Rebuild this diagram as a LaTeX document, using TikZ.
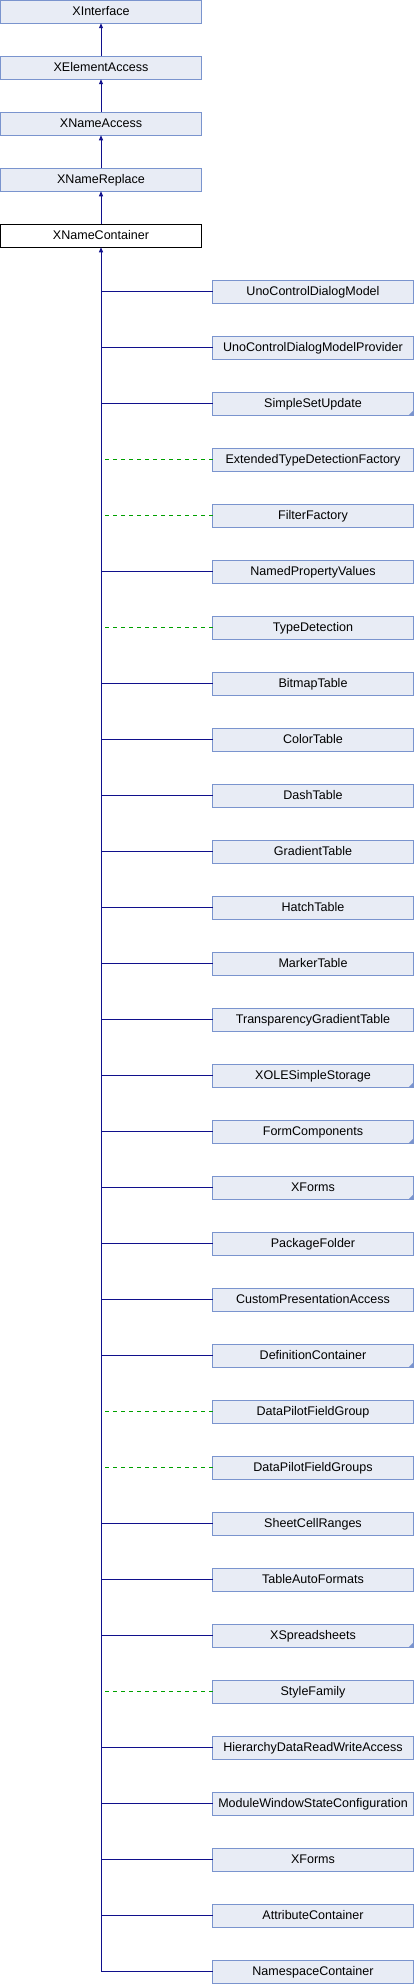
\documentclass[tikz,border=0pt]{standalone}
\usepackage{fontspec}
\setmainfont{Liberation Sans}
\usetikzlibrary{arrows.meta}
\definecolor{boxfill}{HTML}{E8ECF5}
\definecolor{boxline}{HTML}{7A94CE}
\definecolor{linkblue}{HTML}{10108C}
\definecolor{linkgreen}{HTML}{00A000}

\begin{document}
\begin{tikzpicture}[
    x=0.75pt, y=-0.75pt,
    every node/.style={rectangle, draw=boxline, fill=boxfill, line width=0.75pt, minimum width=150.75pt, minimum height=17.25pt, inner sep=0pt, outer sep=0pt, text height=7pt, text depth=2pt, font=\fontsize{9.4}{11}\selectfont},
    current/.style={draw=black, fill=white},
    plainbox/.style={},
    markedbox/.style={path picture={\fill[boxline] (path picture bounding box.south east) -- ++(-5,0) -- ++(5,-5) -- cycle;}},
    solidlink/.style={draw=linkblue, line width=0.75pt},
    dashlink/.style={draw=linkgreen, line width=0.75pt, dash pattern=on 3pt off 3pt},
    parentlink/.style={draw=linkblue, line width=0.75pt, -{Triangle[length=3.75pt, width=3pt]}}
]
\useasboundingbox (0,0) rectangle (414,1984);
\node (xinterface) at (101,11.75) {XInterface};
\node (xelementaccess) at (101,67.75) {XElementAccess};
\node (xnameaccess) at (101,123.75) {XNameAccess};
\node (xnamereplace) at (101,179.75) {XNameReplace};
\node[current] (xnamecontainer) at (101,235.75) {XNameContainer};
\foreach \lower/\upper in {xelementaccess/xinterface, xnameaccess/xelementaccess, xnamereplace/xnameaccess, xnamecontainer/xnamereplace}
    \draw[parentlink] (\lower) -- (\upper);

\coordinate (trunkend) at (101,1971.75);
\draw[parentlink] (trunkend) -- (xnamecontainer);
\foreach \name/\link/\look [count=\k] in {
    UnoControlDialogModel/solidlink/plainbox,
    UnoControlDialogModelProvider/solidlink/plainbox,
    SimpleSetUpdate/solidlink/markedbox,
    ExtendedTypeDetectionFactory/dashlink/plainbox,
    FilterFactory/dashlink/plainbox,
    NamedPropertyValues/solidlink/plainbox,
    TypeDetection/dashlink/plainbox,
    BitmapTable/solidlink/plainbox,
    ColorTable/solidlink/plainbox,
    DashTable/solidlink/plainbox,
    GradientTable/solidlink/plainbox,
    HatchTable/solidlink/plainbox,
    MarkerTable/solidlink/plainbox,
    TransparencyGradientTable/solidlink/plainbox,
    XOLESimpleStorage/solidlink/markedbox,
    FormComponents/solidlink/markedbox,
    XForms/solidlink/markedbox,
    PackageFolder/solidlink/plainbox,
    CustomPresentationAccess/solidlink/plainbox,
    DefinitionContainer/solidlink/markedbox,
    DataPilotFieldGroup/dashlink/plainbox,
    DataPilotFieldGroups/dashlink/plainbox,
    SheetCellRanges/solidlink/plainbox,
    TableAutoFormats/solidlink/plainbox,
    XSpreadsheets/solidlink/markedbox,
    StyleFamily/dashlink/plainbox,
    HierarchyDataReadWriteAccess/solidlink/plainbox,
    ModuleWindowStateConfiguration/solidlink/plainbox,
    XForms/solidlink/plainbox,
    AttributeContainer/solidlink/plainbox,
    NamespaceContainer/solidlink/plainbox}{
    \node[\look] (child\k) at (313,235.75+56*\k) {\name};
    \draw[\link] (child\k.west) -- (child\k.west -| xnamecontainer.south);
}
\end{tikzpicture}
\end{document}
